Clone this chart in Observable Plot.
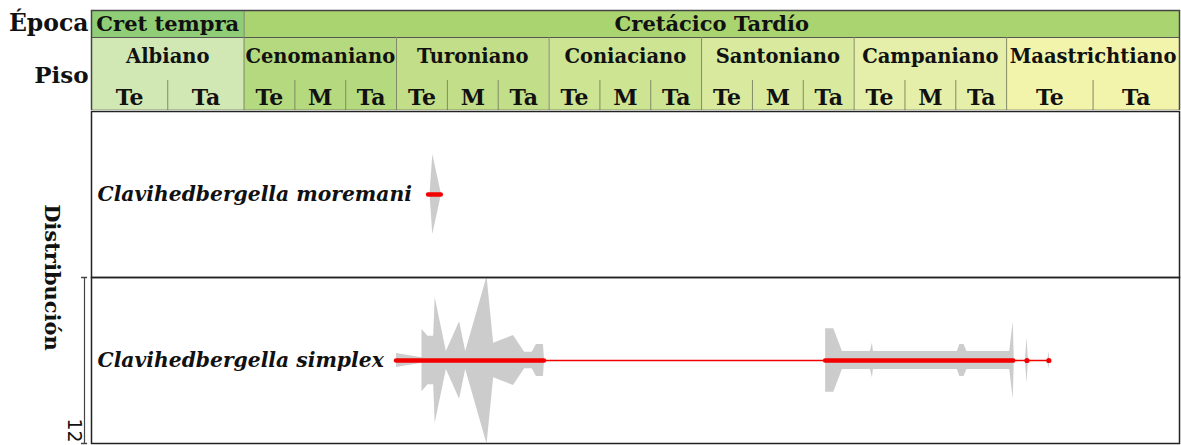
<!DOCTYPE html>
<html><head><meta charset="utf-8">
<script src="https://cdn.jsdelivr.net/npm/d3@7"></script>
<script src="https://cdn.jsdelivr.net/npm/@observablehq/plot@0.6"></script>
<style>
body{margin:0;background:#fff;}
#chart{width:1181px;}
#chart svg{display:block;}
</style></head><body><div id="chart"></div>
<script>
// ---- Chronostratigraphy (x in stage units) ----
const epochNames = ["Cret tempra", "Cretácico Tardío"];
const epochBounds = [0, 3, 21.4];
const stageNames = ["Albiano", "Cenomaniano", "Turoniano", "Coniaciano", "Santoniano", "Campaniano", "Maastrichtiano"];
const stageBounds = [0, 3, 6, 9, 12, 15, 18, 21.4];
const substageNames = [["Te","Ta"],["Te","M","Ta"],["Te","M","Ta"],["Te","M","Ta"],["Te","M","Ta"],["Te","M","Ta"],["Te","Ta"]];

// ---- Species ----
const species = ["Clavihedbergella moremani", "Clavihedbergella simplex"];

// abundance profiles (time in stage units, abundance)
const moremaniTime  = [6.658, 6.713, 6.884];
const moremaniAbund = [0, 5.8, 0];
const moremaniSeg   = [0, 0, 0];

const simplexTime  = [6.00, 6.47, 6.50, 6.50, 6.62, 6.73, 6.76, 6.98, 7.24, 7.36, 7.78, 7.91, 8.30, 8.52, 8.67, 8.75, 8.89, 8.91,
                      14.44, 14.60, 14.77, 15.32, 15.36, 15.38, 17.03, 17.08, 17.16, 17.22, 18.06, 18.13, 18.15,
                      18.37, 18.40, 18.43,
                      18.81, 18.83, 18.85];
const simplexAbund = [1.0, 0.45, 0.45, 4.5, 3.5, 3.5, 9.1, 1.3, 5.6, 1.3, 12.1, 2.5, 3.6, 1.2, 1.2, 2.3, 2.3, 0,
                      4.6, 4.6, 1.3, 1.3, 2.5, 1.3, 1.3, 2.3, 2.3, 1.3, 1.3, 5.6, 0,
                      0, 3.3, 0,
                      0, 1.3, 0];
const simplexSeg   = [0,0,0,0,0,0,0,0,0,0,0,0,0,0,0,0,0,0,
                      1,1,1,1,1,1,1,1,1,1,1,1,1,
                      2,2,2,
                      3,3,3];

// stratigraphic ranges
const rangeSpecies = ["Clavihedbergella moremani", "Clavihedbergella simplex", "Clavihedbergella simplex", "Clavihedbergella simplex"];
const rangeStart   = [6.63, 6.0, 6.0, 14.44];
const rangeEnd     = [6.88, 18.85, 8.91, 18.14];
const rangeKind    = ["main", "thin", "main", "main"];
const pointSpecies = ["Clavihedbergella simplex", "Clavihedbergella simplex"];
const pointTime    = [18.40, 18.83];

const scaleMax = 12;

// ---- styles ----
const epochColors = ["#8fce77", "#a9d46f"];
const stageColors = ["#d1e7b4", "#b4d97e", "#c2de88", "#cde493", "#d9ea9f", "#e5efaa", "#f3f4ac"];
const serif = "DejaVu Serif";
const RED = "#f20000";

// tables
const epochs = epochNames.map((name, i) => ({name, x1: epochBounds[i], x2: epochBounds[i + 1], color: epochColors[i]}));
const stages = stageNames.map((name, i) => ({name, x1: stageBounds[i], x2: stageBounds[i + 1], color: stageColors[i]}));
const subs = [];
stages.forEach((s, i) => {
  const n = substageNames[i].length, w = (s.x2 - s.x1) / n;
  substageNames[i].forEach((name, k) => subs.push({name, x1: s.x1 + k * w, x2: s.x1 + (k + 1) * w, first: k === 0}));
});
const profile = [
  ...moremaniTime.map((t, i) => ({species: species[0], seg: "m" + moremaniSeg[i], t, v: moremaniAbund[i]})),
  ...simplexTime.map((t, i) => ({species: species[1], seg: "s" + simplexSeg[i], t, v: simplexAbund[i]}))
];
const ranges = rangeSpecies.map((sp, i) => ({species: sp, x1: rangeStart[i], x2: rangeEnd[i], kind: rangeKind[i]}));
const points = pointSpecies.map((sp, i) => ({species: sp, t: pointTime[i]}));

const W = 1181, ML = 91, MR = 2;
const xDomain = [stageBounds[0], stageBounds[stageBounds.length - 1]];

const header = Plot.plot({
  width: W, height: 110,
  marginLeft: ML, marginRight: MR, marginTop: 10, marginBottom: 0,
  x: {domain: xDomain, axis: null},
  y: {domain: [0, 100], range: [10, 110], axis: null},
  style: {fontFamily: serif, background: "transparent"},
  marks: [
    Plot.rect(epochs, {x1: "x1", x2: "x2", y1: 0, y2: 27, fill: "color"}),
    Plot.rect(stages, {x1: "x1", x2: "x2", y1: 27, y2: 100, fill: "color"}),
    Plot.ruleY([27], {stroke: "#555", strokeWidth: 1.2}),
    Plot.ruleX([epochBounds[1]], {y1: 0, y2: 27, stroke: "#777", strokeWidth: 1}),
    Plot.ruleX(stageBounds.slice(1, -1), {y1: 27, y2: 100, stroke: "#7f8a66", strokeWidth: 1}),
    Plot.ruleX(subs.filter(d => !d.first), {x: "x1", y1: 70, y2: 100, stroke: "#7f8a66", strokeWidth: 1}),
    Plot.text(epochs, {x: d => (d.x1 + d.x2) / 2, y: 13.5, text: "name", fontSize: 21, fontWeight: "bold", fill: "#111"}),
    Plot.text(stages, {x: d => (d.x1 + d.x2) / 2, y: 46.5, text: "name", fontSize: 19.5, fontWeight: "bold", fill: "#111"}),
    Plot.text(subs, {x: d => (d.x1 + d.x2) / 2, y: 87.5, text: "name", fontSize: 22, fontWeight: "bold", fill: "#111"}),
    Plot.text(["Época"], {frameAnchor: "left", y: 12.5, dx: -3, textAnchor: "end", text: d => d, fontSize: 23.5, fontWeight: "bold", fill: "#111"}),
    Plot.text(["Piso"], {frameAnchor: "left", y: 65, dx: -3, textAnchor: "end", text: d => d, fontSize: 23, fontWeight: "bold", fill: "#111"}),
    Plot.frame({stroke: "#444", strokeWidth: 1.5})
  ]
});

const main = Plot.plot({
  width: W, height: 335,
  marginLeft: ML, marginRight: MR, marginTop: 0, marginBottom: 2,
  x: {domain: xDomain, axis: null},
  y: {domain: [-scaleMax / 2, scaleMax / 2], axis: null},
  fy: {domain: species, padding: 0, axis: null},
  style: {fontFamily: serif, background: "transparent"},
  marks: [
    Plot.areaY(profile, {x: "t", y1: d => -d.v / 2, y2: d => d.v / 2, z: "seg", fy: "species", fill: "#cccccc", curve: "linear"}),
    Plot.ruleY(ranges.filter(d => d.kind === "thin"), {x1: "x1", x2: "x2", y: () => 0, fy: "species", stroke: RED, strokeWidth: 1.6}),
    Plot.ruleY(ranges.filter(d => d.kind === "main"), {x1: "x1", x2: "x2", y: () => 0, fy: "species", stroke: RED, strokeWidth: 4.5, strokeLinecap: "round"}),
    Plot.dot(points, {x: "t", y: () => 0, fy: "species", r: 2.6, fill: RED}),
    Plot.text(species, {fy: d => d, text: d => d, frameAnchor: "left", dx: 6, fontSize: 20.3, fontWeight: "bold", fontStyle: "italic", fill: "#111", textAnchor: "start"}),
    Plot.text([species[0]], {fy: d => d, text: () => "Distribución", frameAnchor: "bottom-left", dx: -47, rotate: 90, textAnchor: "middle", fontSize: 21, fontWeight: "bold", fill: "#111"}),
    Plot.ruleX([species[1]], {fy: d => d, x: () => xDomain[0], y1: () => -scaleMax / 2, y2: () => scaleMax / 2, dx: -7, stroke: "#444", strokeWidth: 1.2}),
    Plot.ruleY([-scaleMax / 2, scaleMax / 2], {fy: () => species[1], y: d => d, x1: () => xDomain[0], x2: () => xDomain[0] + 0.12, dx: -10, stroke: "#444", strokeWidth: 1.5}),
    Plot.text([species[1]], {fy: d => d, text: () => String(scaleMax), frameAnchor: "bottom-left", dx: -24, dy: -13, rotate: 90, textAnchor: "middle", fontSize: 19, fontFamily: "DejaVu Sans", fill: "#111"}),
    Plot.frame({stroke: "#222", strokeWidth: 1.5})
  ]
});

document.getElementById("chart").append(header, main);
</script></body></html>
